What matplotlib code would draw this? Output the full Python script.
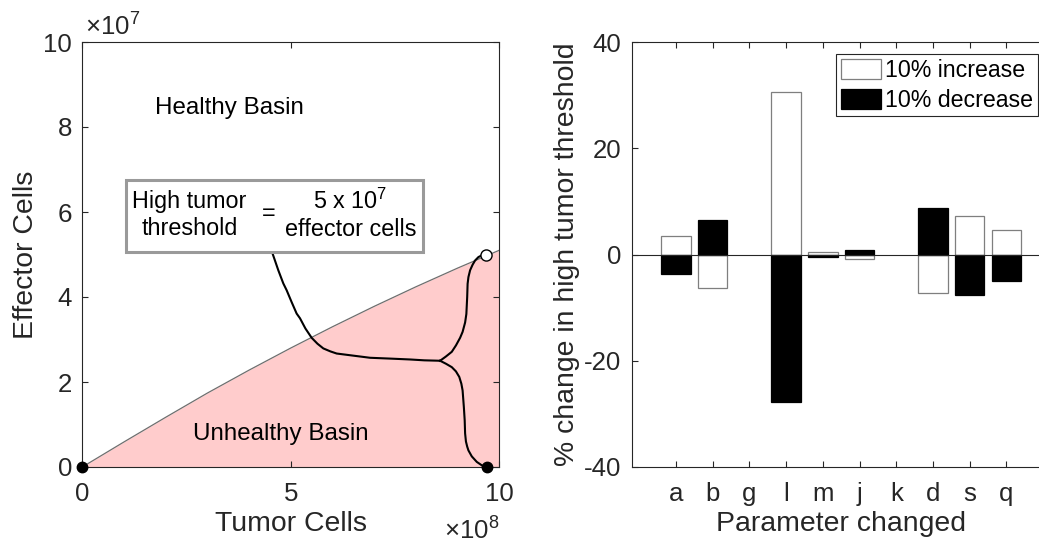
import matplotlib
matplotlib.use("Agg")
import matplotlib.pyplot as plt
from matplotlib.patches import Rectangle

plt.rcParams['font.family'] = ['Liberation Sans', 'DejaVu Sans']
plt.rcParams['mathtext.fontset'] = 'custom'
plt.rcParams['mathtext.rm'] = 'Liberation Sans'
plt.rcParams['mathtext.it'] = 'Liberation Sans:italic'
plt.rcParams['axes.unicode_minus'] = False

# ---------------- data: phase plane (x in 1e8 tumor cells, y in 1e7 effector cells)
sep_x = [0, 1, 2, 3, 4, 5, 6, 7, 8, 9, 10]
sep_y = [0, 0.59, 1.17, 1.74, 2.28, 2.80, 3.30, 3.78, 4.24, 4.68, 5.10]

traj_x = [4.50, 4.56, 4.70, 4.82, 4.90, 5.02, 5.14, 5.22, 5.35, 5.50, 5.64, 5.78,
          5.95, 6.10, 6.26, 6.42, 6.90, 7.40, 7.86, 8.20, 8.58]
traj_y = [5.20, 5.03, 4.63, 4.32, 4.16, 3.88, 3.61, 3.50, 3.26, 3.04, 2.90, 2.79,
          2.72, 2.67, 2.65, 2.63, 2.57, 2.55, 2.53, 2.51, 2.50]

up_x = [8.58, 8.72, 8.86, 8.96, 9.06, 9.12, 9.18, 9.21, 9.22, 9.23, 9.24, 9.26,
        9.30, 9.36, 9.42, 9.50, 9.60, 9.68]
up_y = [2.50, 2.60, 2.71, 2.86, 3.04, 3.18, 3.40, 3.60, 3.80, 4.00, 4.31, 4.47,
        4.63, 4.76, 4.86, 4.94, 4.99, 5.00]

low_x = [8.58, 8.72, 8.86, 8.96, 9.04, 9.09, 9.12, 9.15, 9.17, 9.18, 9.20, 9.23,
         9.26, 9.34, 9.46, 9.58, 9.71]
low_y = [2.50, 2.43, 2.35, 2.25, 2.12, 1.96, 1.80, 1.41, 1.10, 0.79, 0.60, 0.48,
         0.39, 0.25, 0.12, 0.04, 0.00]

stable_x = [0, 9.71]
stable_y = [0, 0]
saddle_x = [9.68]
saddle_y = [5.00]

# ---------------- data: sensitivity bars
params = ['a', 'b', 'g', 'l', 'm', 'j', 'k', 'd', 's', 'q']
increase_10 = [3.4, -6.3, 0, 30.5, 0.5, -0.9, 0, -7.3, 7.3, 4.7]
decrease_10 = [-3.6, 6.5, 0, -27.7, -0.5, 0.9, 0, 8.8, -7.6, -4.9]

TXT = '#262626'
W, H = 1039, 545
fig = plt.figure(figsize=(W / 100, H / 100), dpi=100)

def px_axes(l, t, r, b):
    return fig.add_axes([l / W, (H - b) / H, (r - l) / W, (b - t) / H])

def style(ax, xpad, ypad):
    for s in ax.spines.values():
        s.set_color(TXT)
        s.set_linewidth(0.8)
    ax.tick_params(direction='in', length=4, width=0.8, color=TXT,
                   labelcolor=TXT, labelsize=18.6, top=True, right=True)
    ax.tick_params(axis='x', pad=xpad)
    ax.tick_params(axis='y', pad=ypad)

# ---------------- left panel
ax1 = px_axes(82.3, 42, 499.3, 467)
ax1.set_xlim(0, 10)
ax1.set_ylim(0, 10)
ax1.fill_between(sep_x, 0, sep_y, color='#FFCCCC', lw=0, zorder=1)
ax1.plot(sep_x, sep_y, color='#6e6e6e', lw=0.9, zorder=2)
ax1.plot(traj_x, traj_y, color='black', lw=1.5, zorder=3)
ax1.plot(up_x, up_y, color='black', lw=1.5, zorder=3)
ax1.plot(low_x, low_y, color='black', lw=1.5, zorder=3)
ax1.plot(stable_x, stable_y, 'o', color='black', ms=7.5, clip_on=False, zorder=5)
ax1.plot(saddle_x, saddle_y, 'o', mfc='white', mec='black', mew=1.0, ms=8,
         clip_on=False, zorder=5)
ax1.set_xticks([0, 5, 10])
ax1.set_xticklabels(['0', '5', '10'])
ax1.set_yticks([0, 2, 4, 6, 8, 10])
style(ax1, 11, 7.5)
ax1.set_xlabel('Tumor Cells', fontsize=20.4, color=TXT)
ax1.set_ylabel('Effector Cells', fontsize=20.4, color=TXT)
ax1.xaxis.set_label_coords(0.5, -0.104)
ax1.yaxis.set_label_coords(-0.104, 0.5)

ax1.text(0.006, 1.016, r'$\times10^{7}$', transform=ax1.transAxes, fontsize=18.6,
         color=TXT, ha='left', va='baseline')
ax1.text(1.0, -0.172, r'$\times10^{8}$', transform=ax1.transAxes, fontsize=18.6,
         color=TXT, ha='right', va='baseline')

ax1.text(3.53, 8.45, 'Healthy Basin', fontsize=17.4, color='black',
         ha='center', va='center', zorder=6)
ax1.text(4.75, 0.77, 'Unhealthy Basin', fontsize=17.4, color='black',
         ha='center', va='center', zorder=6)

box = Rectangle((1.05, 5.06), 8.18 - 1.05, 6.76 - 5.06, facecolor='white',
                edgecolor='#9a9a9a', lw=2.2, zorder=7)
ax1.add_patch(box)
ax1.text(2.57, 5.93, 'High tumor\nthreshold', fontsize=16.8, ha='center',
         va='center', multialignment='center', linespacing=1.2, zorder=8)
ax1.text(4.46, 5.96, '=', fontsize=16.8, ha='center', va='center', zorder=8)
ax1.text(6.43, 5.93, '5 x 10$^{7}$\neffector cells', fontsize=16.8, ha='center',
         va='center', multialignment='center', linespacing=1.2, zorder=8)

# ---------------- right panel
ax2 = px_axes(632, 42, 1050.4, 467)
pos = list(range(1, len(params) + 1))
inc_lw = [0 if v == 0 else 0.9 for v in increase_10]
dec_lw = [0 if v == 0 else 0.9 for v in decrease_10]
ax2.bar(pos, increase_10, width=0.8, color='white', edgecolor='#7f7f7f',
        linewidth=inc_lw, zorder=2, label='10% increase')
ax2.bar(pos, decrease_10, width=0.8, color='black', edgecolor='black',
        linewidth=dec_lw, zorder=2, label='10% decrease')
ax2.axhline(0, color=TXT, lw=0.8, zorder=3)
ax2.set_xlim(-0.2, 11.2)
ax2.set_ylim(-40, 40)
ax2.set_xticks(pos)
ax2.set_xticklabels(params)
ax2.set_yticks([-40, -20, 0, 20, 40])
style(ax2, 11, 7.5)
ax2.set_xlabel('Parameter changed', fontsize=20.4, color=TXT)
ax2.set_ylabel('% change in high tumor threshold', fontsize=20.4, color=TXT)
ax2.xaxis.set_label_coords(0.5, -0.104)
ax2.yaxis.set_label_coords(-0.124, 0.5)

leg = ax2.legend(loc='upper left', bbox_to_anchor=(836 / W, 1 - 54 / H),
                 bbox_transform=fig.transFigure, fontsize=16.7, frameon=True,
                 fancybox=False, framealpha=1, edgecolor=TXT,
                 handlelength=1.72, handleheight=0.97, handletextpad=0.2,
                 borderpad=0.2, labelspacing=0.3, borderaxespad=0)
leg.get_frame().set_linewidth(0.8)
for h in leg.legend_handles:
    h.set_linewidth(0.9)
for t in leg.get_texts():
    t.set_color('black')

fig.savefig('out.png', dpi=100)
